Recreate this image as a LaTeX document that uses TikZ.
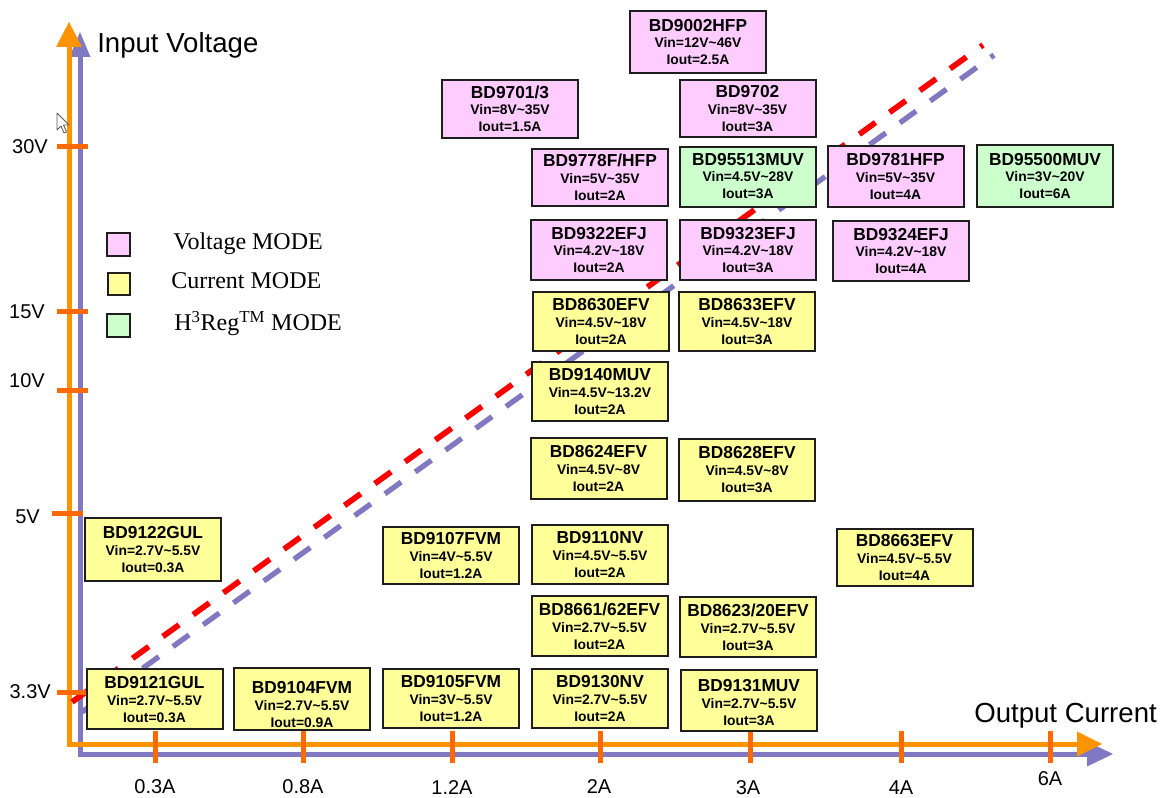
\documentclass[tikz,border=0pt]{standalone}
\usepackage{fontspec}
\setmainfont{Liberation Sans}
\newfontfamily\serifF{Liberation Serif}
\definecolor{axor}{HTML}{FF9400}
\definecolor{tickor}{HTML}{FF6A00}
\definecolor{lav}{HTML}{8078C0}
\definecolor{vpink}{HTML}{FFCCFF}
\definecolor{cyel}{HTML}{FFFF99}
\definecolor{hgreen}{HTML}{CCFFCC}
\definecolor{bord}{HTML}{1E1E1E}
\tikzset{
  chipbox/.style={draw=bord, line width=1.5pt, rectangle, inner sep=0pt, minimum width=102pt},
  ttl/.style={anchor=base, inner sep=0pt, font=\fontsize{13}{15}\selectfont\bfseries},
  sub/.style={anchor=base, inner sep=0pt, font=\fontsize{10.4}{12}\selectfont\bfseries},
  axlbl/.style={inner sep=0pt, font=\fontsize{15}{18}\selectfont},
  axtitle/.style={inner sep=0pt, anchor=base west, font=\fontsize{20.7}{24}\selectfont},
  legtxt/.style={inner sep=0pt, anchor=base west, font=\serifF\fontsize{18}{21}\selectfont},
  legbox/.style={draw=bord, line width=1.5pt, minimum width=17pt, minimum height=17pt, inner sep=0pt},
  tickmark/.style={draw=tickor, line width=3.75pt},
  oraxis/.style={draw=axor, line width=3.75pt, line join=miter},
  lvaxis/.style={draw=lav, line width=3.75pt, line join=miter},
  reddash/.style={draw=red, line width=4.3pt, dash pattern=on 15pt off 13pt},
  lavdash/.style={draw=lav, line width=4pt, dash pattern=on 15pt off 13pt},
}
% #1 name, #2 x, #3 y, #4 height(px), #5 fill, #6 title, #7 vin, #8 iout, #9 text shift (px)
\newcommand\chip[9]{%
  \node[chipbox, fill=#5, minimum height=#4*0.75pt] (#1) at (#2,#3) {};
  \node[ttl] (#1t) at (#2,{#3+#9-10.75}) {#6};
  \node[sub] (#1v) at (#2,{#3+#9+6}) {#7};
  \node[sub] (#1i) at (#2,{#3+#9+23}) {#8};
}
\newcommand\tl{\textasciitilde}
\begin{document}
\begin{tikzpicture}[x=0.75pt, y=-0.75pt]
\useasboundingbox (0,0) rectangle (1167,798);
% lavender axis
\coordinate (bTop) at (80,57);
\coordinate (bCorner) at (80,754);
\coordinate (bRight) at (1087,754);
\draw[lvaxis] (bTop) -- (bCorner) -- (bRight);
\fill[lav] (69.5,57) -- (80,32) -- (90.5,57) -- cycle;
\fill[lav] (1087,741.5) -- (1113,754) -- (1087,766.5) -- cycle;
% orange axis
\coordinate (oTop) at (69,47);
\coordinate (oCorner) at (69,744);
\coordinate (oRight) at (1077,744);
\draw[oraxis] (oTop) -- (oCorner) -- (oRight);
\fill[axor] (56,47) -- (69,22) -- (82,47) -- cycle;
\fill[axor] (1077,731.5) -- (1102,744) -- (1077,756.5) -- cycle;
% dashed lines
\coordinate (rs) at (72,702);
\coordinate (re) at (983,45);
\coordinate (ls) at (82,712);
\coordinate (le) at (994,55);
\draw[lavdash] (ls) -- (le);
\draw[reddash] (rs) -- (re);
% ticks
\foreach \yy in {147,312,391,692} {\draw[tickmark] (57,\yy) -- (88,\yy);}
\draw[tickmark] (52,513) -- (83,513);
\foreach \xx in {155,303,452,600,750,901,1050} {\draw[tickmark] (\xx,731) -- (\xx,763);}
% axis labels
\node[axlbl, anchor=east] (v30) at (48,147) {30V};
\node[axlbl, anchor=east] (v15) at (45,312) {15V};
\node[axlbl, anchor=east] (v10) at (45,381) {10V};
\node[axlbl, anchor=east] (v5) at (40,517) {5V};
\node[axlbl, anchor=east] (v33) at (51,692) {3.3V};
\node[axlbl] (a03) at (155,787) {0.3A};
\node[axlbl] (a08) at (303,787) {0.8A};
\node[axlbl] (a12) at (452,788) {1.2A};
\node[axlbl] (a2) at (599,787) {2A};
\node[axlbl] (a3) at (748,788) {3A};
\node[axlbl] (a4) at (901,788) {4A};
\node[axlbl] (a6) at (1050,779) {6A};
\node[axtitle] (ytitle) at (97,53) {Input Voltage};
\node[axtitle] (xtitle) at (974,722) {Output Current};
% legend
\node[legbox, fill=vpink] (lg1) at (118.5,244.5) {};
\node[legbox, fill=cyel] (lg2) at (119,284) {};
\node[legbox, fill=hgreen] (lg3) at (118.5,325.5) {};
\node[legtxt] (lt1) at (173,250) {Voltage MODE};
\node[legtxt] (lt2) at (171,289) {Current MODE};
\node[legtxt] (lt3) at (174,331) {H\textsuperscript{3}Reg\textsuperscript{TM} MODE};
% chips
\chip{c9002}{698}{42}{62}{vpink}{BD9002HFP}{Vin=12V\tl46V}{Iout=2.5A}{0}
\chip{c9701}{510}{109}{58}{vpink}{BD9701/3}{Vin=8V\tl35V}{Iout=1.5A}{0}
\chip{c9702}{747.5}{108.5}{57}{vpink}{BD9702}{Vin=8V\tl35V}{Iout=3A}{0}
\chip{c9778}{600}{177.5}{57}{vpink}{BD9778F/HFP}{Vin=5V\tl35V}{Iout=2A}{0}
\chip{c95513}{748}{177}{60}{hgreen}{BD95513MUV}{Vin=4.5V\tl28V}{Iout=3A}{-1}
\chip{c9781}{895.5}{176.5}{61}{vpink}{BD9781HFP}{Vin=5V\tl35V}{Iout=4A}{0}
\chip{c95500}{1045}{176}{62}{hgreen}{BD95500MUV}{Vin=3V\tl20V}{Iout=6A}{0}
\chip{c9322}{599}{250}{60}{vpink}{BD9322EFJ}{Vin=4.2V\tl18V}{Iout=2A}{0}
\chip{c9323}{748}{250}{60}{vpink}{BD9323EFJ}{Vin=4.2V\tl18V}{Iout=3A}{0}
\chip{c9324}{901}{251}{60}{vpink}{BD9324EFJ}{Vin=4.2V\tl18V}{Iout=4A}{0}
\chip{c8630}{601}{321.5}{59}{cyel}{BD8630EFV}{Vin=4.5V\tl18V}{Iout=2A}{0}
\chip{c8633}{747}{321.5}{59}{cyel}{BD8633EFV}{Vin=4.5V\tl18V}{Iout=3A}{0}
\chip{c9140}{600}{391.5}{59}{cyel}{BD9140MUV}{Vin=4.5V\tl13.2V}{Iout=2A}{0}
\chip{c8624}{598.5}{468.5}{61}{cyel}{BD8624EFV}{Vin=4.5V\tl8V}{Iout=2A}{0}
\chip{c8628}{747}{469.5}{62}{cyel}{BD8628EFV}{Vin=4.5V\tl8V}{Iout=3A}{0}
\chip{c9122}{153}{549.5}{63}{cyel}{BD9122GUL}{Vin=2.7V\tl5.5V}{Iout=0.3A}{0}
\chip{c9107}{451}{555.5}{57}{cyel}{BD9107FVM}{Vin=4V\tl5.5V}{Iout=1.2A}{0}
\chip{c9110}{600}{554.5}{59}{cyel}{BD9110NV}{Vin=4.5V\tl5.5V}{Iout=2A}{0}
\chip{c8663}{904.5}{557.5}{57}{cyel}{BD8663EFV}{Vin=4.5V\tl5.5V}{Iout=4A}{0}
\chip{c8661}{599.5}{626}{60}{cyel}{BD8661/62EFV}{Vin=2.7V\tl5.5V}{Iout=2A}{0}
\chip{c8623}{748}{627}{60}{cyel}{BD8623/20EFV}{Vin=2.7V\tl5.5V}{Iout=3A}{0}
\chip{c9121}{154.5}{699}{60}{cyel}{BD9121GUL}{Vin=2.7V\tl5.5V}{Iout=0.3A}{0}
\chip{c9104}{302}{699}{62}{cyel}{BD9104FVM}{Vin=2.7V\tl5.5V}{Iout=0.9A}{5}
\chip{c9105}{451}{698.5}{59}{cyel}{BD9105FVM}{Vin=3V\tl5.5V}{Iout=1.2A}{0}
\chip{c9130}{600}{698.5}{59}{cyel}{BD9130NV}{Vin=2.7V\tl5.5V}{Iout=2A}{0}
\chip{c9131}{749}{700.5}{61}{cyel}{BD9131MUV}{Vin=2.7V\tl5.5V}{Iout=3A}{2}
% mouse cursor
\draw[black!65, fill=white, line width=0.6pt, line join=round]
  (57,113) -- (57,130) -- (61,126) -- (64,133) -- (66.5,132) -- (63.5,125) -- (69,125) -- cycle;
\end{tikzpicture}
\end{document}
